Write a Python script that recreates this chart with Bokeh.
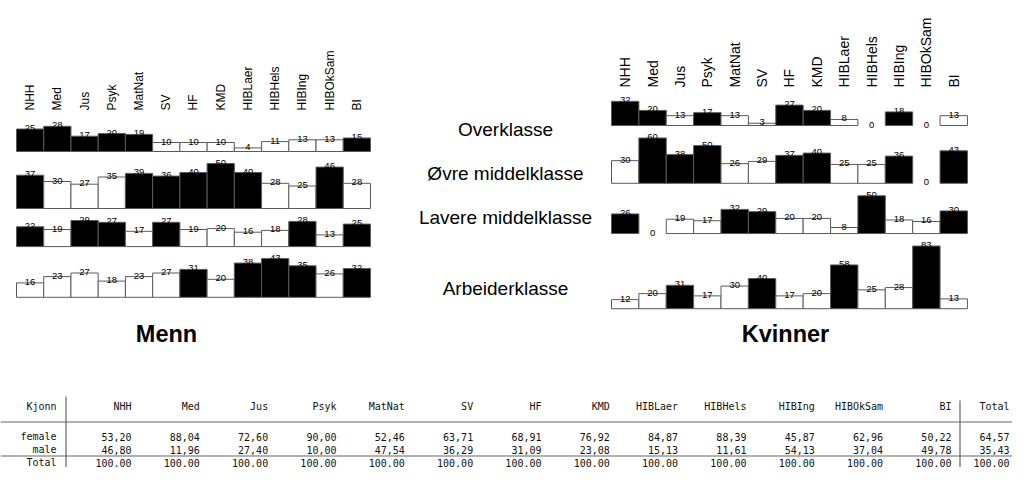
import numpy as np
from bokeh.plotting import figure
from bokeh.models import Range1d, ColumnDataSource
from bokeh.embed import file_html
from bokeh.resources import INLINE
from bokeh.core.properties import value

# ---------------- data ----------------
studies = ["NHH", "Med", "Jus", "Psyk", "MatNat", "SV", "HF", "KMD",
           "HIBLaer", "HIBHels", "HIBIng", "HIBOkSam", "BI"]
classes = ["Overklasse", "Øvre middelklasse", "Lavere middelklasse", "Arbeiderklasse"]

menn_overklasse = [25, 28, 17, 20, 19, 10, 10, 10, 4, 11, 13, 13, 15]
menn_ovre = [37, 30, 27, 35, 39, 36, 40, 50, 40, 28, 25, 46, 28]
menn_lavere = [22, 19, 29, 27, 17, 27, 19, 20, 16, 18, 28, 13, 25]
menn_arbeider = [16, 23, 27, 18, 23, 27, 31, 20, 38, 43, 35, 26, 32]

kvinner_overklasse = [32, 20, 13, 17, 13, 3, 27, 20, 8, 0, 18, 0, 13]
kvinner_ovre = [30, 60, 38, 50, 26, 29, 37, 40, 25, 25, 36, 0, 43]
kvinner_lavere = [26, 0, 19, 17, 32, 29, 20, 20, 8, 50, 18, 16, 30]
kvinner_arbeider = [12, 20, 31, 17, 30, 40, 17, 20, 58, 25, 28, 83, 13]

panel_titles = ["Menn", "Kvinner"]

table_row_header = "Kjonn"
table_rows = ["female", "male"]
female_pct = [53.20, 88.04, 72.60, 90.00, 52.46, 63.71, 68.91, 76.92, 84.87, 88.39, 45.87, 62.96, 50.22]
male_pct = [46.80, 11.96, 27.40, 10.00, 47.54, 36.29, 31.09, 23.08, 15.13, 11.61, 54.13, 37.04, 49.78]
female_total = 64.57
male_total = 35.43

# ---------------- figure ----------------
W, H = 1012, 467
p = figure(width=W, height=H, x_range=Range1d(0, W), y_range=Range1d(H, 0),
           x_axis_type=None, y_axis_type=None, output_backend="svg",
           toolbar_location=None, min_border=0)
p.grid.visible = False
p.outline_line_color = None
p.background_fill_color = "white"

SANS = value("Liberation Sans")
MONO = value("DejaVu Sans Mono")


def panel(name, rows, x0, col_w, base0, scale, gap, label_bottom, label_size):
    n = len(studies)
    xr = name + "_x"
    p.extra_x_ranges[xr] = Range1d((0 - x0) / col_w, (W - x0) / col_w)
    idx = np.arange(n)
    # column labels (rotated)
    p.text(x=idx + 0.5, y=[label_bottom] * n, text=studies, angle=np.pi / 2,
           x_range_name=xr, text_align="left", text_baseline="middle",
           text_font=SANS, text_font_size=value(label_size), text_color="black")
    base = base0
    for r, vals in enumerate(rows):
        vals = np.array(vals, dtype=float)
        yr = f"{name}_y{r}"
        p.extra_y_ranges[yr] = Range1d((base - H) / scale, (base - 0) / scale)
        mean = vals.mean()
        colors = ["black" if v >= mean else "white" for v in vals]
        nz = vals > 0
        src = ColumnDataSource(dict(left=idx[nz], right=idx[nz] + 1,
                                    top=vals[nz], bottom=np.zeros(nz.sum()),
                                    color=[c for c, k in zip(colors, nz) if k]))
        p.quad(left="left", right="right", top="top", bottom="bottom", source=src,
               fill_color="color", line_color="#5a5a5a", line_width=1,
               x_range_name=xr, y_range_name=yr)
        p.text(x=idx + 0.5, y=vals, text=[str(int(v)) for v in vals],
               x_range_name=xr, y_range_name=yr, text_align="center",
               text_baseline="alphabetic", text_font=SANS, y_offset=-1,
               text_font_size=value("9.5px"), text_color="black")
        if r + 1 < len(rows):
            base = base + gap + max(rows[r + 1]) * scale


panel("menn", [menn_overklasse, menn_ovre, menn_lavere, menn_arbeider],
      x0=16, col_w=27.23, base0=151, scale=0.9, gap=12, label_bottom=110,
      label_size="12px")
panel("kvinner", [kvinner_overklasse, kvinner_ovre, kvinner_lavere, kvinner_arbeider],
      x0=611, col_w=27.38, base0=125, scale=0.755, gap=12.5, label_bottom=87,
      label_size="14px")

# row labels in the middle
p.text(x=[505] * 4, y=[129, 173, 217, 288], text=classes, text_align="center",
       text_baseline="middle", text_font=SANS, text_font_size=value("19px"),
       text_color="black")

# panel titles
p.text(x=[166, 785], y=[333, 333], text=panel_titles, text_align="center",
       text_baseline="middle", text_font=SANS, text_font_size=value("23.5px"),
       text_font_style="bold", text_color="black")

# ---------------- table ----------------
def fmt_c(v):
    return f"{v:.2f}".replace(".", ",")

col_right = [131 + i * 68.33 for i in range(len(studies))]
total_right = 1009
y_head, y_f, y_m, y_t = 406, 436, 449, 462

hdr_x = [56] + col_right + [total_right]
hdr_t = [table_row_header] + studies + ["Total"]
p.text(x=hdr_x, y=[y_head] * len(hdr_x), text=hdr_t, text_align="right",
       text_baseline="middle", text_font=MONO, text_font_size=value("10px"),
       text_color="#111111")

female_txt = [table_rows[0]] + [fmt_c(v) for v in female_pct] + [fmt_c(female_total)]
male_txt = [table_rows[1]] + [fmt_c(v) for v in male_pct] + [fmt_c(male_total)]
total_txt = ["Total"] + [f"{a + b:.2f}" for a, b in zip(female_pct, male_pct)] + \
            [f"{female_total + male_total:.2f}"]
for yy, tx in [(y_f, female_txt), (y_m, male_txt), (y_t, total_txt)]:
    p.text(x=hdr_x, y=[yy] * len(hdr_x), text=tx, text_align="right",
           text_baseline="middle", text_font=MONO, text_font_size=value("10px"),
           text_color="#111111")

p.segment(x0=[0, 0], y0=[421.5, 455.5], x1=[1030, 1030], y1=[421.5, 455.5],
          line_color="#666666", line_width=1.2)
p.segment(x0=[65.5, 959.5], y0=[396, 400], x1=[65.5, 959.5], y1=[480, 480],
          line_color="#666666", line_width=1.2)

open("out.html", "w").write(file_html(p, INLINE))
